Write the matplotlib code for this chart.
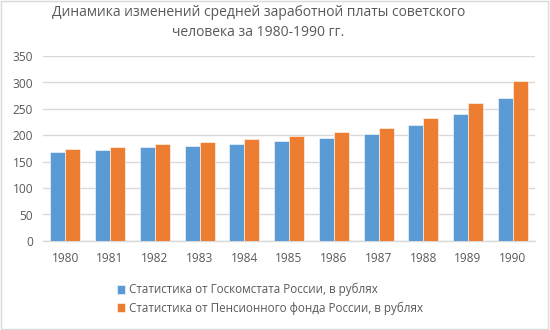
import matplotlib.pyplot as plt
import numpy as np
from matplotlib.patches import Rectangle

# Data
years = ["1980", "1981", "1982", "1983", "1984", "1985",
         "1986", "1987", "1988", "1989", "1990"]
goskomstat = [168, 172, 177, 180, 184, 190, 195, 202, 219, 240, 270]
pension_fund = [174, 178, 183, 188, 193, 198, 206, 214, 233, 262, 303]

series_names = ["Статистика от Госкомстата России, в рублях",
                "Статистика от Пенсионного фонда России, в рублях"]
title = "Динамика изменений средней заработной платы советского\nчеловека за 1980-1990 гг."

plt.rcParams['font.family'] = ['Open Sans', 'DejaVu Sans']
text_color = "#595959"
grid_color = "#d9d9d9"

fig = plt.figure(figsize=(5.5, 3.3), dpi=100)
ax = fig.add_axes([0.078, 0.27, 0.895, 0.56])

x = np.arange(len(years))
w = 0.335
ax.bar(x - w / 2, goskomstat, w, color="#5b9bd5", edgecolor="white",
       linewidth=0.4, label=series_names[0], zorder=3)
ax.bar(x + w / 2, pension_fund, w, color="#ed7d31", edgecolor="white",
       linewidth=0.4, label=series_names[1], zorder=3)

ax.set_xlim(-0.5, len(years) - 0.5)
ax.set_ylim(0, 350)
ax.set_yticks(range(0, 351, 50))
ax.set_xticks(x)
ax.set_xticklabels(years)
ax.tick_params(axis="both", length=0, labelsize=8.6, colors=text_color)
ax.tick_params(axis="x", pad=8)
ax.tick_params(axis="y", pad=7)
ax.grid(axis="y", color=grid_color, linewidth=1, zorder=0)
for s in ["top", "right", "left"]:
    ax.spines[s].set_visible(False)
ax.spines["bottom"].set_color(grid_color)
ax.spines["bottom"].set_linewidth(1)

fig.suptitle(title, fontsize=10, color=text_color, x=0.47, y=0.985,
             linespacing=1.45)

fig.legend(loc="upper left", bbox_to_anchor=(0.212, 0.142), frameon=False,
           fontsize=8.4, labelcolor=text_color, handlelength=0.75,
           handleheight=0.75, handletextpad=0.3, labelspacing=0.4,
           borderaxespad=0, borderpad=0)

fig.add_artist(Rectangle((0.002, 0.003), 0.995, 0.994, transform=fig.transFigure,
                         fill=False, edgecolor="#d9d9d9", linewidth=1))

fig.savefig("out.png", dpi=100)
